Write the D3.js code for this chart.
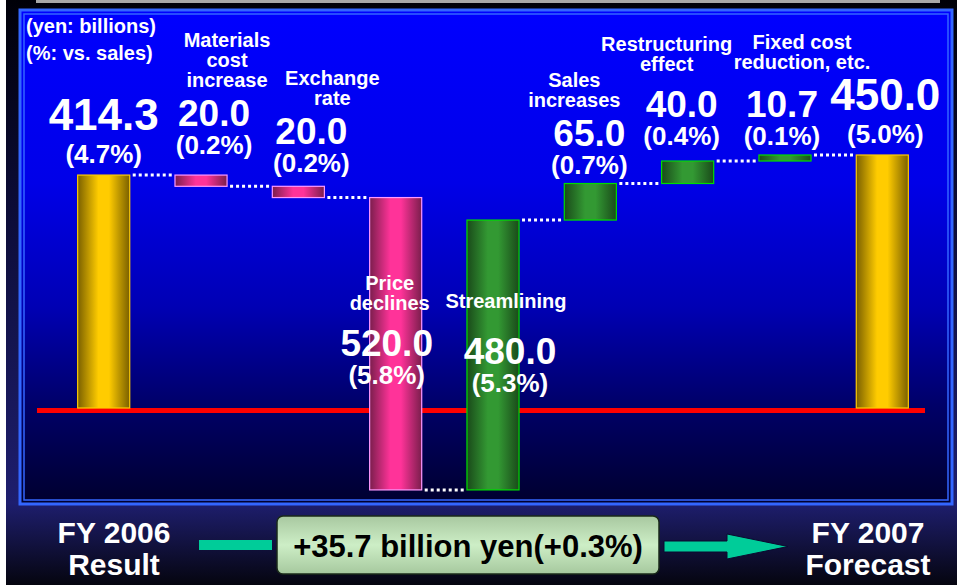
<!DOCTYPE html>
<html>
<head>
<meta charset="utf-8">
<script src="https://cdn.jsdelivr.net/npm/d3@7"></script>
<style>
  html, body { margin: 0; padding: 0; background: #fff; }
  svg { display: block; }
  text { font-family: "Liberation Sans", Arial, sans-serif; font-weight: bold; }
</style>
</head>
<body>
<svg id="chart" width="957" height="585"></svg>
<script>
// chart data (yen: billions)
var stepNames = [[], ["Materials", "cost", "increase"], ["Exchange", "rate"], ["Price", "declines"],
    ["Streamlining"], ["Sales", "increases"], ["Restructuring", "effect"], ["Fixed cost", "reduction, etc."], []];
var stepValues = [414.3, -20.0, -20.0, -520.0, 480.0, 65.0, 40.0, 10.7, 450.0];
var stepKinds = ["total", "down", "down", "down", "up", "up", "up", "up", "total"];
var pctLabels = ["(4.7%)", "(0.2%)", "(0.2%)", "(5.8%)", "(5.3%)", "(0.7%)", "(0.4%)", "(0.1%)", "(5.0%)"];
var unitNotes = ["(yen: billions)", "(%: vs. sales)"];
var fromLabel = ["FY 2006", "Result"];
var toLabel = ["FY 2007", "Forecast"];
var diffLabel = "+35.7 billion yen(+0.3%)";

// label nudges so texts don't collide: [name dx, name dy, value dx, value dy]
var labelNudge = [[0, 0, 0, 0], [26, -7, 13, -9], [34, 0, 13, -2], [-6, 0, -9, 0], [13, -13, 17, -3],
    [-16, 4, -1, 2], [-21, -9, -6, -4], [17, -5, -3, 2], [0, 0, 3, 0]];

var svg = d3.select("svg"),
    width = +svg.attr("width"),
    height = +svg.attr("height");

var defs = svg.append("defs");

function vGrad(id, stops) {
    var g = defs.append("linearGradient").attr("id", id)
        .attr("x1", 0).attr("y1", 0).attr("x2", 0).attr("y2", 1);
    stops.forEach(function (s) {
        g.append("stop").attr("offset", s[0]).attr("stop-color", s[1]);
    });
}
function hGrad(id, edge, mid) {
    var g = defs.append("linearGradient").attr("id", id)
        .attr("x1", 0).attr("y1", 0).attr("x2", 1).attr("y2", 0);
    [[0, edge], [0.4, mid], [0.6, mid], [1, edge]].forEach(function (s) {
        g.append("stop").attr("offset", s[0]).attr("stop-color", s[1]);
    });
}

vGrad("bg", [[0, "#000008"], [0.3, "#0a0a30"], [0.86, "#1e1e6e"], [1, "#05050f"]]);
vGrad("panel", [[0, "#0000ff"], [0.35, "#0000e8"], [0.6, "#0000b4"], [0.8, "#000068"], [1, "#00002e"]]);
vGrad("boxFill", [[0, "#a8c8a0"], [0.5, "#cdeec6"], [1, "#a6c89e"]]);
hGrad("gold", "#7a6000", "#ffcc00");
hGrad("pink", "#7a1e4c", "#ff3399");
hGrad("green", "#1a4a1a", "#339933");

var fills = { total: "url(#gold)", down: "url(#pink)", up: "url(#green)" };
var strokes = { total: "#ffcc00", down: "#ff99ff", up: "#00dd00" };

// background
svg.append("rect").attr("width", width).attr("height", height).attr("fill", "url(#bg)");
svg.append("rect").attr("width", 6).attr("height", height).attr("fill", "#ffffff");
svg.append("rect").attr("x", 36).attr("y", 0).attr("width", 904).attr("height", 3).attr("fill", "#a8a8a8");

// panel
svg.append("rect").attr("x", 20).attr("y", 10).attr("width", 932).attr("height", 494)
    .attr("fill", "url(#panel)").attr("stroke", "#3366ff").attr("stroke-width", 3);
svg.append("rect").attr("x", 24).attr("y", 14).attr("width", 924).attr("height", 486)
    .attr("fill", "none").attr("stroke", "#3366ff").attr("stroke-width", 1.5);

// running totals
var steps = [];
var total = 0;
stepValues.forEach(function (v, i) {
    var start, end;
    if (stepKinds[i] === "total") { start = 0; end = v; }
    else { start = total; end = total + v; }
    total = end;
    steps.push({ i: i, value: v, kind: stepKinds[i], start: start, end: end,
        names: stepNames[i], pct: pctLabels[i] });
});

var x = d3.scaleBand()
    .domain(d3.range(stepValues.length))
    .range([29, 957])
    .paddingInner(0.465)
    .paddingOuter(0.5);

var y = d3.scaleLinear()
    .domain([0, 450])
    .range([408, 155]);

// red base line
svg.append("rect").attr("x", 37).attr("y", y(0)).attr("width", 888).attr("height", 5).attr("fill", "#ff0000");

// connectors
svg.append("g").selectAll("line")
    .data(steps.slice(0, -1))
    .enter().append("line")
    .attr("x1", function (d) { return x(d.i) + x.bandwidth() + 3; })
    .attr("x2", function (d) { return x(d.i + 1) - 1; })
    .attr("y1", function (d) { return y(d.end); })
    .attr("y2", function (d) { return y(d.end); })
    .attr("stroke", "#ffffff")
    .attr("stroke-width", 3)
    .attr("stroke-dasharray", "3,3");

// bars
svg.append("g").selectAll("rect")
    .data(steps)
    .enter().append("rect")
    .attr("x", function (d) { return x(d.i); })
    .attr("width", x.bandwidth())
    .attr("y", function (d) { return y(Math.max(d.start, d.end)); })
    .attr("height", function (d) { return Math.abs(y(d.start) - y(d.end)); })
    .attr("fill", function (d) { return fills[d.kind]; })
    .attr("stroke", function (d) { return strokes[d.kind]; })
    .attr("stroke-width", 1.2);

// labels
var fmt = d3.format(".1f");
var labels = svg.append("g").attr("fill", "#ffffff").attr("text-anchor", "middle");

steps.forEach(function (d) {
    var cx = x(d.i) + x.bandwidth() / 2;
    var top = y(Math.max(d.start, d.end));
    var big = d.kind === "total";
    var nd = labelNudge[d.i];
    var vy, py, ny;
    if (Math.abs(d.value) > 100 && !big) {
        var mid = (y(d.start) + y(d.end)) / 2;
        vy = mid + 12; py = mid + 40; ny = vy - 46;
    } else {
        vy = top - (big ? 45 : 40); py = top - 12; ny = vy - 41;
    }
    labels.append("text").attr("x", cx + nd[2]).attr("y", vy + nd[3])
        .style("font-size", big ? "44px" : "37px")
        .text(fmt(Math.abs(d.value)));
    labels.append("text").attr("x", cx + nd[2]).attr("y", py + nd[3])
        .style("font-size", "26px")
        .text(d.pct);
    var n = d.names.length;
    d.names.forEach(function (s, k) {
        labels.append("text").attr("x", cx + nd[0]).attr("y", ny + nd[1] - (n - 1 - k) * 20)
            .style("font-size", "20px")
            .text(s);
    });
});

// unit notes
svg.append("g").selectAll("text")
    .data(unitNotes)
    .enter().append("text")
    .attr("x", 26)
    .attr("y", function (d, i) { return 33 + i * 27; })
    .attr("fill", "#ffffff")
    .style("font-size", "20px")
    .text(function (d) { return d; });

// bottom: from / to and difference
var bottom = svg.append("g").attr("text-anchor", "middle").attr("fill", "#ffffff");
[[114, fromLabel], [868, toLabel]].forEach(function (p) {
    p[1].forEach(function (s, k) {
        bottom.append("text").attr("x", p[0]).attr("y", 543 + k * 32)
            .style("font-size", "30px")
            .text(s);
    });
});

svg.append("rect").attr("x", 199).attr("y", 540).attr("width", 73).attr("height", 10).attr("fill", "#00cc99");
svg.append("path")
    .attr("d", "M664,541 L727,541 L727,534 L788,546.5 L727,559 L727,552 L664,552 Z")
    .attr("fill", "#00cc99").attr("stroke", "#0a0a30").attr("stroke-width", 1);

svg.append("rect").attr("x", 277).attr("y", 516).attr("width", 382).attr("height", 58)
    .attr("rx", 6).attr("fill", "url(#boxFill)").attr("stroke", "#1a2a1a").attr("stroke-width", 1.5);
svg.append("text").attr("x", 468).attr("y", 557)
    .attr("text-anchor", "middle").attr("fill", "#000000")
    .style("font-size", "31px")
    .text(diffLabel);
</script>
</body>
</html>
